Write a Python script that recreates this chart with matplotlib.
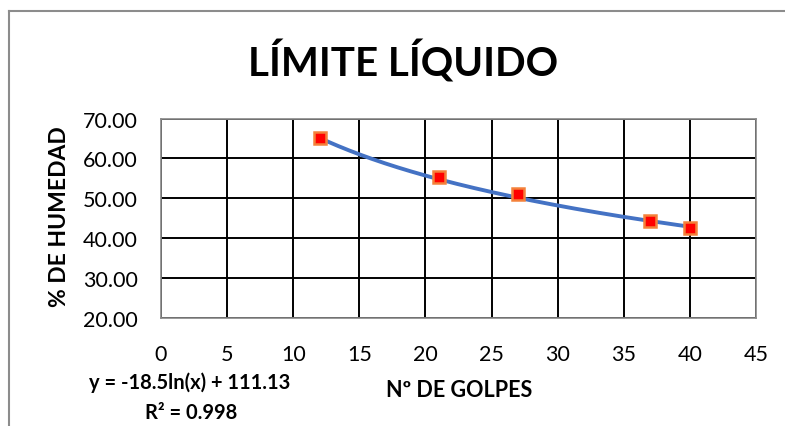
import numpy as np
import matplotlib
matplotlib.use('Agg')
import matplotlib.pyplot as plt
from matplotlib.lines import Line2D

plt.rcParams['font.family'] = ['Lato', 'DejaVu Sans']

# Data
golpes = [12, 21, 27, 37, 40]
humedad = [65.2, 55.3, 51.0, 44.4, 42.5]
x_ticks = [0, 5, 10, 15, 20, 25, 30, 35, 40, 45]
y_ticks = [20, 30, 40, 50, 60, 70]

# Logarithmic trend line as printed on the chart
trend_a = -18.5
trend_b = 111.13
trend_r2 = 0.998

x_fit = np.linspace(min(golpes), max(golpes), 200)
y_fit = trend_a * np.log(x_fit) + trend_b

fig = plt.figure(figsize=(7.85, 4.27), dpi=100)
ax = fig.add_axes([0.2051, 0.2529, 0.963 - 0.2051, 0.720 - 0.2529])

ax.plot(x_fit, y_fit, color='#4472C4', lw=2.8, zorder=3)
ax.plot(golpes, humedad, ls='none', marker='s', ms=9, mfc='#FF0000',
        mec='#F4813A', mew=1.8, zorder=4)

ax.set_xlim(0, 45)
ax.set_ylim(20, 70)
ax.set_xticks(x_ticks)
ax.set_yticks(y_ticks)
ax.set_yticklabels([f'{v:.2f}' for v in y_ticks])
ax.tick_params(length=0, labelsize=15.5)
ax.tick_params(axis='y', pad=16.5)
ax.tick_params(axis='x', pad=19)
ax.grid(True, color='black', lw=1.4)
ax.set_axisbelow(True)
for s in ax.spines.values():
    s.set_color('#888888')
    s.set_linewidth(1.2)

fig.text(60 / 785, 1 - 217 / 427, '% DE HUMEDAD', fontsize=16.5,
         fontweight='bold', rotation=90, ha='center', va='center')
fig.text(459 / 785, 1 - 391 / 427, 'Nº DE GOLPES', fontsize=15.5,
         fontweight='bold', ha='center', va='center')

fig.text(403 / 785, 1 - 62 / 427, 'LÍMITE LÍQUIDO', fontsize=29,
         fontweight='bold', ha='center', va='center')

eq = f'y = {trend_a:.1f}ln(x) + {trend_b:.2f}'
fig.text(190 / 785, 1 - 383 / 427, eq, fontsize=14.5, fontweight='bold',
         ha='center', va='center')
fig.text(191 / 785, 1 - 413 / 427, f'R² = {trend_r2}', fontsize=14.5,
         fontweight='bold', ha='center', va='center')

# outer chart frame (top and left edges visible)
fig.add_artist(Line2D([9 / 785, 1], [1 - 12 / 427] * 2, color='#8c8c8c', lw=1.5))
fig.add_artist(Line2D([9 / 785] * 2, [0, 1 - 12 / 427], color='#8c8c8c', lw=1.5))

fig.savefig('out.png', dpi=100)
